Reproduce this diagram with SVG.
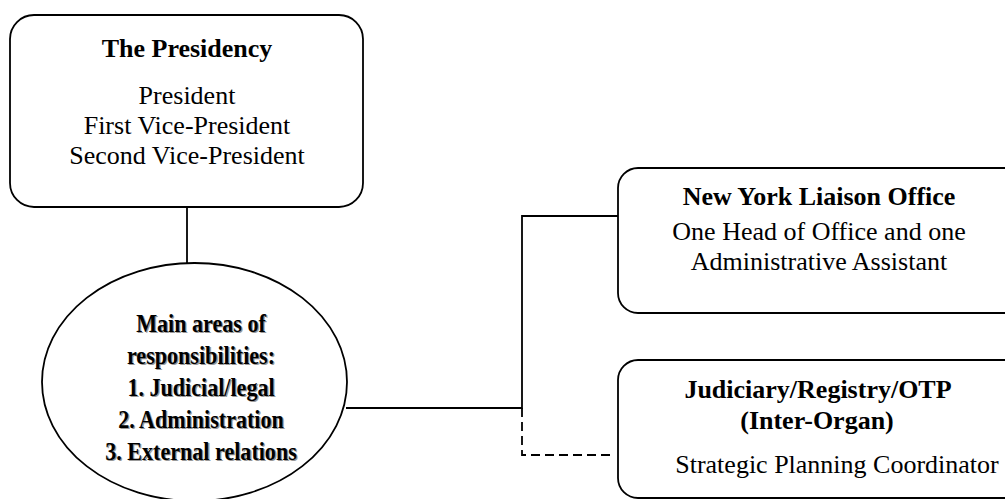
<svg xmlns="http://www.w3.org/2000/svg" width="1005" height="499" viewBox="0 0 1005 499">
<style>
.box{fill:#fff;stroke:#000;stroke-width:1.8}
.ln{fill:none;stroke:#000;stroke-width:1.8}
.dash{fill:none;stroke:#000;stroke-width:1.8;stroke-dasharray:9 5}
.t{font-family:"Liberation Serif","Times New Roman",serif;font-size:26px;fill:#000;text-anchor:middle}
.b{font-weight:bold}
.e{font-family:"Liberation Serif","Times New Roman",serif;font-size:26px;font-weight:bold;text-anchor:middle}
.sh{fill:#999}
.fg{fill:#000}
</style>
<g id="connectors">
<line class="ln" x1="187" y1="207" x2="187" y2="264"/>
<polyline class="ln" points="346,408 522,408 522,216 618,216"/>
<polyline class="dash" points="522,408 522,455 613,455"/>
</g>
<g id="presidency">
<rect class="box" x="10" y="15" width="353" height="192" rx="24"/>
<text class="t b" x="187" y="57">The Presidency</text>
<text class="t" x="187" y="104">President</text>
<text class="t" x="187" y="134">First Vice-President</text>
<text class="t" x="187" y="164">Second Vice-President</text>
</g>
<g id="responsibilities">
<ellipse class="box" cx="194.5" cy="382" rx="152.5" ry="119"/>
<g class="e" transform="translate(201 0) scale(0.85 1)">
<text class="sh" x="1.5" y="333.5">Main areas of</text>
<text class="sh" x="1.5" y="365.5">responsibilities:</text>
<text class="sh" x="1.5" y="397.5">1. Judicial/legal</text>
<text class="sh" x="1.5" y="429.5">2. Administration</text>
<text class="sh" x="1.5" y="461.5">3. External relations</text>
<text class="fg" x="0" y="332">Main areas of</text>
<text class="fg" x="0" y="364">responsibilities:</text>
<text class="fg" x="0" y="396">1. Judicial/legal</text>
<text class="fg" x="0" y="428">2. Administration</text>
<text class="fg" x="0" y="460">3. External relations</text>
</g>
</g>
<g id="ny-office">
<rect class="box" x="618" y="168" width="410" height="145" rx="20"/>
<text class="t b" x="819" y="205">New York Liaison Office</text>
<text class="t" x="819" y="240">One Head of Office and one</text>
<text class="t" x="819" y="270">Administrative Assistant</text>
</g>
<g id="inter-organ">
<rect class="box" x="618" y="360" width="410" height="138" rx="20"/>
<text class="t b" x="818" y="398">Judiciary/Registry/OTP</text>
<text class="t b" x="817" y="429">(Inter-Organ)</text>
<text class="t" x="837" y="473">Strategic Planning Coordinator</text>
</g>
</svg>
